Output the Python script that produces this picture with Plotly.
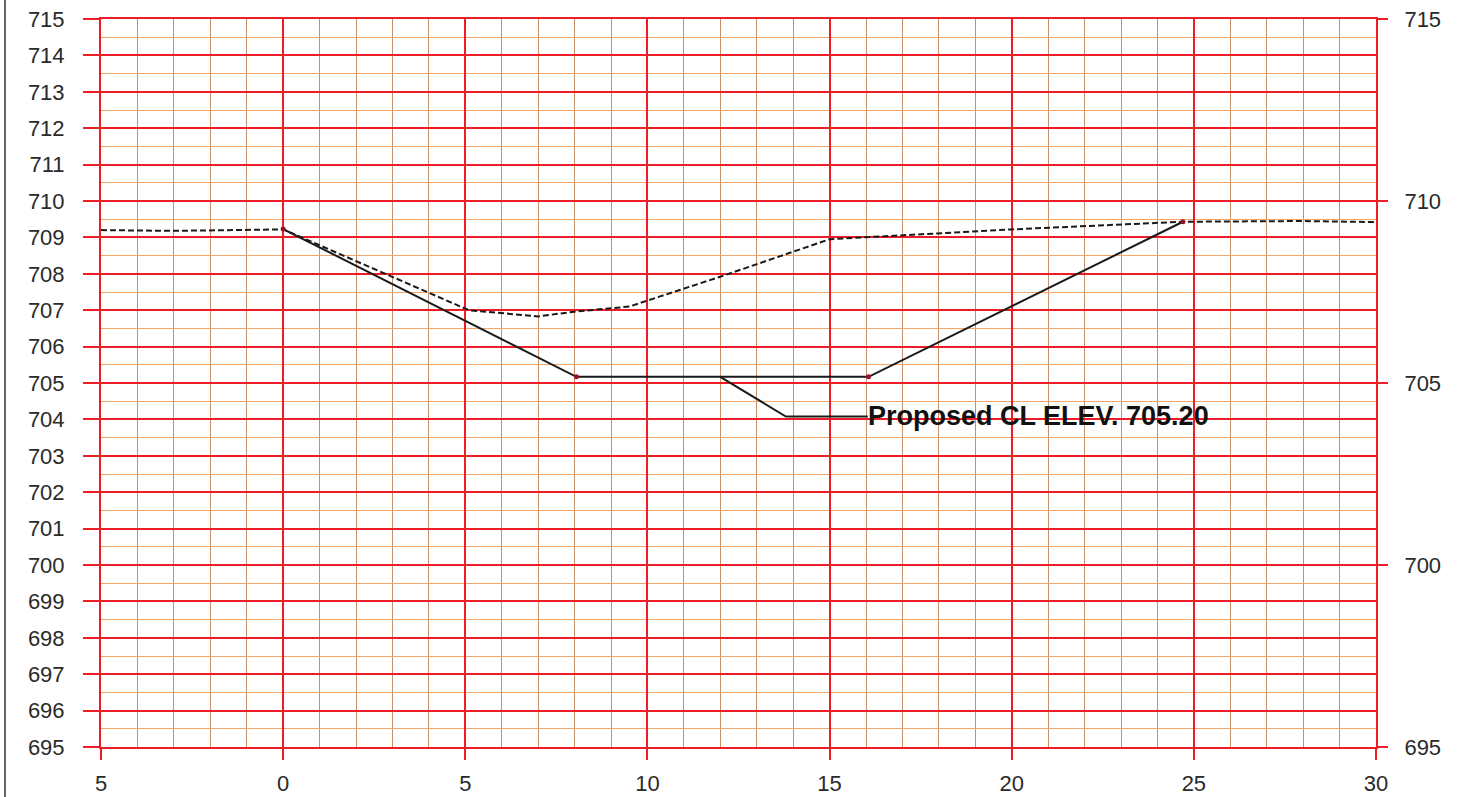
import plotly.graph_objects as go

# Existing ground profile (dashed)
ground_x = [-5, -3, 0, 5.1, 7.0, 8.0, 9.5, 12.0, 15.0, 20.0, 24.7, 28.0, 30]
ground_y = [709.2, 709.18, 709.22, 707.0, 706.83, 706.96, 707.1, 707.92, 708.95, 709.22, 709.43, 709.45, 709.42]

# Proposed section (solid)
prop_x = [0, 8.05, 16.07, 24.7]
prop_y = [709.23, 705.17, 705.17, 709.43]

# Leader line for the label
leader_x = [12.0, 13.8, 16.05]
leader_y = [705.17, 704.08, 704.08]
label_text = "Proposed CL ELEV. 705.20"

x_range = [-5, 30]
y_range = [695, 715]

RED = "rgb(238,28,37)"
MINOR_H = "rgb(246,165,105)"
MINOR_V = "rgb(200,145,110)"
TXT = "#2a2a2a"

fig = go.Figure()
fig.add_trace(go.Scatter(x=ground_x, y=ground_y, mode="lines",
                         line=dict(color="#1a1a1a", width=2, dash="6px,3px"),
                         showlegend=False, hoverinfo="skip"))
fig.add_trace(go.Scatter(x=prop_x, y=prop_y, mode="lines+markers",
                         line=dict(color="#1a1a1a", width=2),
                         marker=dict(color="rgb(150,20,40)", size=5),
                         showlegend=False, hoverinfo="skip"))
fig.add_trace(go.Scatter(x=leader_x, y=leader_y, mode="lines",
                         line=dict(color="#1a1a1a", width=2),
                         showlegend=False, hoverinfo="skip"))
fig.add_trace(go.Scatter(x=[None], y=[None], yaxis="y2", showlegend=False))

fig.add_annotation(x=leader_x[-1], y=leader_y[-1], text="<b>" + label_text + "</b>",
                   showarrow=False, xanchor="left", yanchor="middle", xshift=-2,
                   font=dict(family="Liberation Sans, Arial, sans-serif", size=27, color="#111"))

fig.update_layout(
    width=1466, height=797,
    margin=dict(l=101, r=90, t=19, b=50, autoexpand=False),
    paper_bgcolor="white", plot_bgcolor="white",
    font=dict(family="Liberation Sans, Arial, sans-serif", size=22, color=TXT),
    xaxis=dict(range=x_range, tickmode="linear", tick0=-5, dtick=5,
               labelalias={"\u22125": "5", "-5": "5"},
               showgrid=True, gridcolor=RED, gridwidth=2,
               minor=dict(tickmode="linear", tick0=-5, dtick=1, showgrid=True,
                          gridcolor=MINOR_V, gridwidth=1, ticks=""),
               ticks="outside", ticklen=11, tickwidth=2, tickcolor=RED,
               showline=True, linecolor=RED, linewidth=2, mirror=True,
               zeroline=False, ticklabelstandoff=5, automargin=False),
    yaxis=dict(range=y_range, tickmode="linear", tick0=695, dtick=1,
               showgrid=True, gridcolor=RED, gridwidth=2,
               minor=dict(tickmode="linear", tick0=695, dtick=0.5, showgrid=True,
                          gridcolor=MINOR_H, gridwidth=1, ticks=""),
               ticks="outside", ticklen=16, tickwidth=2, tickcolor=RED,
               showline=True, linecolor=RED, linewidth=2, mirror=True,
               zeroline=False, ticklabelstandoff=14, automargin=False),
    yaxis2=dict(range=y_range, tickmode="linear", tick0=695, dtick=5,
                overlaying="y", side="right",
                showgrid=False, zeroline=False,
                ticks="outside", ticklen=11, tickwidth=2, tickcolor=RED,
                ticklabelstandoff=12, automargin=False),
    shapes=[dict(type="line", xref="paper", yref="paper",
                 x0=-0.0753, x1=-0.0753, y0=-0.1, y1=1.05,
                 line=dict(color="#666", width=2))],
)

fig.write_html("out.html", config={"displayModeBar": False},
               post_script="document.body.style.margin='0';document.body.style.overflow='hidden';")
